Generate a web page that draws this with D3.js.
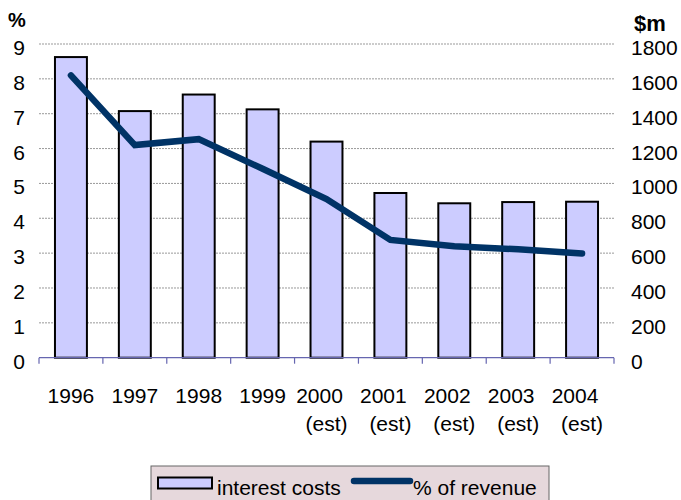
<!DOCTYPE html>
<html><head><meta charset="utf-8">
<script src="https://cdn.jsdelivr.net/npm/d3@7"></script>
<style>body{margin:0;background:#fff}svg{display:block;font-family:Arial,"Liberation Sans",sans-serif}</style>
</head><body><svg id="c" width="681" height="500"></svg>
<script>
const years = ["1996","1997","1998","1999","2000","2001","2002","2003","2004"];
const subLabels = ["","","","","(est)","(est)","(est)","(est)","(est)"];
const interestCosts = [1725,1415,1510,1425,1240,945,886,893,895];
const pctRevenue = [8.1,6.1,6.27,5.42,4.55,3.38,3.2,3.11,2.99];
const leftTicks = [0,1,2,3,4,5,6,7,8,9];
const rightTicks = [0,200,400,600,800,1000,1200,1400,1600,1800];

const svg = d3.select("#c");
const L = 39, R = 614, T = 44, B = 357.7;
const x = d3.scaleBand().domain(years).range([L,R]).paddingInner(0.5).paddingOuter(0.25);
const xb = d3.scaleBand().domain(years).range([L,R]);
const yL = d3.scaleLinear().domain([0,9]).range([B,T]);
const yR = d3.scaleLinear().domain([0,1800]).range([B,T]);
const cx = d => x(d) + x.bandwidth()/2;

// gridlines
svg.append("g").selectAll("line").data(leftTicks.filter(d=>d>0)).join("line")
  .attr("x1",L).attr("x2",R).attr("y1",d=>yL(d)).attr("y2",d=>yL(d))
  .attr("stroke","#999").attr("stroke-width",1).attr("stroke-dasharray","2,1");

// bars
svg.append("g").selectAll("rect").data(interestCosts).join("rect")
  .attr("x",(d,i)=>x(years[i])).attr("width",x.bandwidth())
  .attr("y",d=>yR(d)).attr("height",d=>B-yR(d))
  .attr("fill","#CCCCFF").attr("stroke","#000").attr("stroke-width",2);

// x axis baseline
const xa = svg.append("g");
xa.append("line").attr("x1",L).attr("x2",R).attr("y1",B).attr("y2",B).attr("stroke","#6666B0").attr("stroke-width",1.2);
xa.selectAll("line.t").data(years.concat(["end"])).join("line").attr("class","t")
  .attr("x1",(d,i)=>L+i*xb.step()).attr("x2",(d,i)=>L+i*xb.step())
  .attr("y1",B).attr("y2",B+6).attr("stroke","#6666B0").attr("stroke-width",1.2);

// line
const line = d3.line().x((d,i)=>cx(years[i])).y(d=>yL(d));
svg.append("path").datum(pctRevenue).attr("d",line).attr("fill","none")
  .attr("stroke","#003366").attr("stroke-width",6.5).attr("stroke-linecap","round").attr("stroke-linejoin","miter");

// left axis labels
svg.append("g").selectAll("text").data(leftTicks).join("text")
  .attr("x",25).attr("y",d=>yL(d)+11).attr("text-anchor","end")
  .attr("font-size",21).attr("fill","#000").text(d=>d);
svg.append("text").attr("x",8).attr("y",27).attr("font-size",20).attr("font-weight","bold").text("%");

// right axis labels
svg.append("g").selectAll("text").data(rightTicks).join("text")
  .attr("x",631).attr("y",d=>yR(d)+11).attr("text-anchor","start")
  .attr("font-size",21).attr("fill","#000").text(d=>d);
svg.append("text").attr("x",634).attr("y",31).attr("font-size",22).attr("font-weight","bold").text("$m");

// x labels
const xl = svg.append("g");
xl.selectAll("text.y").data(years).join("text").attr("class","y")
  .attr("x",(d,i)=>cx(d) - (subLabels[i] ? 7 : 0)).attr("y",403).attr("text-anchor","middle")
  .attr("font-size",21).text(d=>d);
xl.selectAll("text.s").data(subLabels).join("text").attr("class","s")
  .attr("x",(d,i)=>cx(years[i])).attr("y",431).attr("text-anchor","middle")
  .attr("font-size",21).text(d=>d);

// legend
const lg = svg.append("g");
lg.append("rect").attr("x",151).attr("y",466).attr("width",398).attr("height",40)
  .attr("fill","#E6D8DC").attr("stroke","#666").attr("stroke-width",1);
lg.append("rect").attr("x",158).attr("y",477.5).attr("width",54).attr("height",11)
  .attr("fill","#CCCCFF").attr("stroke","#000").attr("stroke-width",2);
lg.append("text").attr("x",217).attr("y",495).attr("font-size",21).text("interest costs");
lg.append("line").attr("x1",354).attr("x2",410).attr("y1",481).attr("y2",481)
  .attr("stroke","#003366").attr("stroke-width",6.5).attr("stroke-linecap","round");
lg.append("text").attr("x",413).attr("y",495).attr("font-size",21).text("% of revenue");
</script></body></html>
